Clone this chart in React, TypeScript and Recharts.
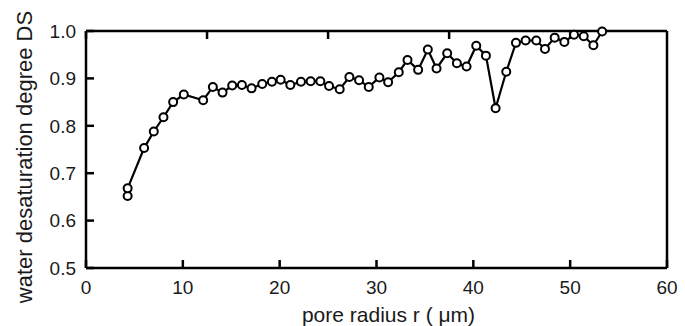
import { LineChart, Line, XAxis, YAxis } from 'recharts';

// pore radius r (µm) and water desaturation degree DS
const poreRadius = [
  4.3, 4.3, 6.0, 7.0, 8.0, 9.0, 10.1, 12.1, 13.1, 14.1, 15.1, 16.1, 17.1, 18.2, 19.2, 20.1, 21.1,
  22.2, 23.2, 24.2, 25.1, 26.2, 27.2, 28.2, 29.2, 30.3, 31.2, 32.3, 33.2, 34.3, 35.3, 36.2, 37.3,
  38.3, 39.3, 40.3, 41.3, 42.3, 43.4, 44.4, 45.4, 46.5, 47.4, 48.4, 49.4, 50.4, 51.4, 52.4, 53.3,
];
const desaturation = [
  0.652, 0.668, 0.753, 0.788, 0.818, 0.85, 0.866, 0.854, 0.882, 0.87, 0.885, 0.886, 0.879,
  0.888, 0.893, 0.897, 0.886, 0.893, 0.894, 0.894, 0.884, 0.877, 0.903, 0.896, 0.882, 0.902,
  0.892, 0.913, 0.939, 0.918, 0.961, 0.921, 0.953, 0.932, 0.925, 0.969, 0.948, 0.837, 0.914,
  0.975, 0.98, 0.98, 0.962, 0.986, 0.977, 0.992, 0.989, 0.97, 0.999,
];
const xTicks = [0, 10, 20, 30, 40, 50, 60];
const yTicks = [0.5, 0.6, 0.7, 0.8, 0.9, 1.0];

const data = poreRadius.map((r, i) => ({ r, ds: desaturation[i] }));

const font = 'Liberation Sans, Arial, sans-serif';
const ink = '#1a1a1a';
const tickFont = { fontSize: 19, fill: ink, fontFamily: font };
const blank = () => '';

export default function App() {
  return (
    <div style={{ position: 'absolute', left: 0, top: 0, width: 685, height: 326, background: '#fff' }}>
      <LineChart width={685} height={326} data={data} margin={{ top: 30, right: 17, bottom: 0, left: 0 }}>
        {/* negative tickSize -> tick marks point into the plot */}
        <XAxis
          xAxisId="b"
          dataKey="r"
          type="number"
          domain={[0, 60]}
          ticks={xTicks}
          interval={0}
          height={58}
          stroke="#000"
          strokeWidth={2.5}
          tickSize={-8}
          tickMargin={21}
          tick={tickFont}
          label={{
            content: (props: any) => {
              const vb = props.viewBox || { x: 86, y: 268, width: 581, height: 58 };
              return (
                <text
                  x={vb.x + vb.width / 2 + 12}
                  y={vb.y + 54}
                  textAnchor="middle"
                  fontSize={21}
                  fill={ink}
                  fontFamily={font}
                >
                  pore radius r ( μm)
                </text>
              );
            },
          }}
        />
        <XAxis
          xAxisId="t"
          orientation="top"
          type="number"
          domain={[0, 60]}
          ticks={xTicks}
          interval={0}
          height={1}
          stroke="#000"
          strokeWidth={2.5}
          tickSize={-8}
          tickFormatter={blank}
        />
        <YAxis
          yAxisId="l"
          type="number"
          domain={[0.5, 1]}
          ticks={yTicks}
          interval={0}
          width={86}
          stroke="#000"
          strokeWidth={2.5}
          tickSize={-8}
          tickMargin={18}
          tickFormatter={(v: number) => v.toFixed(1)}
          tick={tickFont}
          label={{
            content: () => (
              <text
                x={24}
                y={157}
                transform="rotate(-90, 24, 157)"
                textAnchor="middle"
                dominantBaseline="central"
                fontSize={22}
                fill={ink}
                fontFamily={font}
              >
                water desaturation degree DS
              </text>
            ),
          }}
        />
        <YAxis
          yAxisId="r"
          orientation="right"
          type="number"
          domain={[0.5, 1]}
          ticks={yTicks}
          interval={0}
          width={1}
          stroke="#000"
          strokeWidth={2.5}
          tickSize={-8}
          tickFormatter={blank}
        />
        <Line
          xAxisId="b"
          yAxisId="l"
          dataKey="ds"
          type="linear"
          stroke="#000"
          strokeWidth={2.2}
          dot={{ r: 4, fill: '#fff', stroke: '#000', strokeWidth: 2 }}
          isAnimationActive={false}
        />
      </LineChart>
    </div>
  );
}
